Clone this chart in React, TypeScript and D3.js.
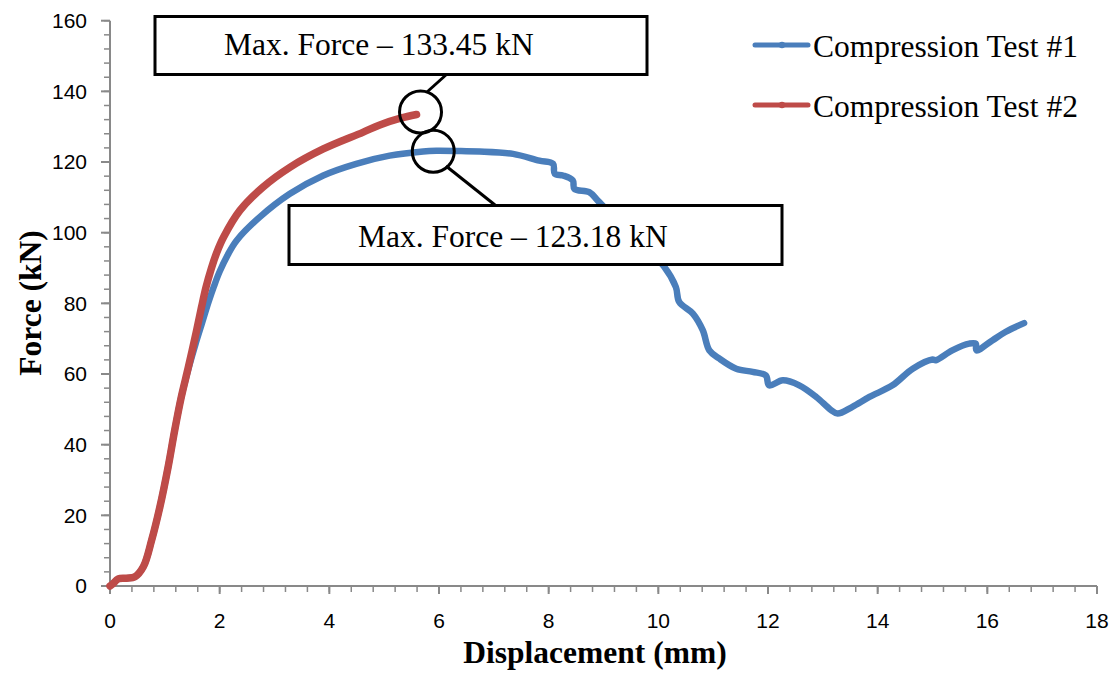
import React from "react";
import * as d3 from "d3";

// Compression Test #1 — displacement (mm)
const test1Disp = [
  0, 0.05, 0.15, 0.3, 0.455, 0.61, 0.76, 0.91, 1.06, 1.18, 1.3, 1.44, 1.56, 1.68, 1.8, 1.9, 2.0, 2.15, 2.31, 2.73, 3.28, 3.89,
  4.49, 5.1, 5.71, 5.95, 6.4, 6.74, 7.35, 7.83, 8.08, 8.11, 8.26, 8.44, 8.47, 8.74, 8.9, 9.4, 9.8, 10.11, 10.32,
  10.38, 10.63, 10.81, 10.93, 11.11, 11.42, 11.72, 11.96, 12.02, 12.27, 12.57, 12.88, 13.15, 13.27, 13.54, 13.85,
  14.27, 14.64, 15.0, 15.06, 15.36, 15.67, 15.79, 15.8, 16.09, 16.33, 16.67,
];
// Compression Test #1 — force (kN)
const test1Force = [
  0, 0.6, 2.0, 2.2, 2.6, 5.5, 13, 22.4, 33.7, 44.1, 53.5, 62, 68.5, 74.5, 80.5, 85, 89, 93.8, 97.8, 104.4, 111, 116.2,
  119.5, 121.8, 123, 123.18, 123.1, 123, 122.3, 120.4, 119.5, 116.7, 116.2, 114.8, 112.4, 111.5, 109, 101, 95, 90.3, 84.6,
  80.4, 77.1, 72.4, 66.7, 64.4, 61.5, 60.6, 59.6, 56.8, 58.2, 56.8, 53.5, 49.8, 48.8, 50.7, 53.5,
  56.8, 61.5, 64.1, 63.9, 66.7, 68.6, 68.6, 66.7, 69.5, 71.9, 74.4,
];

// Compression Test #2 — displacement (mm)
const test2Disp = [
  0, 0.05, 0.15, 0.3, 0.455, 0.61, 0.76, 0.91, 1.06, 1.18, 1.3, 1.43, 1.58, 1.67, 1.75, 1.85, 1.95, 2.07, 2.37, 2.79, 3.28, 3.89,
  4.61, 4.92, 5.3, 5.59,
];
// Compression Test #2 — force (kN)
const test2Force = [
  0, 0.6, 2.0, 2.2, 2.6, 5.5, 13, 22.4, 33.7, 44.1, 53.5, 62, 72.4, 79, 84.5, 90, 94.5, 98.7, 106.3, 112.9, 118.5, 123.7,
  128.4, 130.5, 132.4, 133.45,
];

const seriesNames = ["Compression Test #1", "Compression Test #2"];
const seriesColors = ["#4A7EBB", "#BE4B48"];

const maxForce1 = 123.18;
const maxForce2 = 133.45;
const maxDisp1 = 5.95;
const maxDisp2 = 5.59;

const xTicks = [0, 2, 4, 6, 8, 10, 12, 14, 16, 18];
const yTicks = [0, 20, 40, 60, 80, 100, 120, 140, 160];

const W = 1117;
const H = 673;

const x = d3.scaleLinear().domain([0, 18]).range([110, 1097]);
const y = d3.scaleLinear().domain([0, 160]).range([586, 20.7]);

const lineGen = d3
  .line<[number, number]>()
  .x((d) => x(d[0]))
  .y((d) => y(d[1]))
  .curve(d3.curveCatmullRom.alpha(0.5));

const s1: [number, number][] = test1Disp.map((d, i) => [d, test1Force[i]]);
const s2: [number, number][] = test2Disp.map((d, i) => [d, test2Force[i]]);

const axisColor = "#898989";
const serif = "'Liberation Serif', 'Times New Roman', serif";
const sans = "'Liberation Sans', Arial, sans-serif";

const xMinor = d3.range(0, 18.0001, 0.4);
const yMinor = d3.range(0, 160.0001, 4);

export default function App() {
  const c1 = { cx: x(maxDisp1) - 3, cy: y(maxForce1) + 0.5 };
  const c2 = { cx: x(maxDisp2) + 4, cy: y(maxForce2) - 2.5 };
  return (
    <svg
      width={W}
      height={H}
      style={{ position: "absolute", left: 0, top: 0, background: "#fff" }}
    >
      <rect x={0} y={0} width={W} height={H} fill="#fff" />

      {/* axes */}
      <g stroke={axisColor} strokeWidth={2}>
        <line x1={x(0)} x2={x(0)} y1={y(160)} y2={y(0)} />
        <line x1={x(0)} x2={x(18)} y1={y(0)} y2={y(0)} />
        {yMinor.map((v) => (
          <line key={"ym" + v} x1={x(0) - 6} x2={x(0)} y1={y(v)} y2={y(v)} strokeWidth={1.5} />
        ))}
        {yTicks.map((v) => (
          <line key={"yt" + v} x1={x(0) - 9} x2={x(0)} y1={y(v)} y2={y(v)} />
        ))}
        {xMinor.map((v) => (
          <line key={"xm" + v} x1={x(v)} x2={x(v)} y1={y(0)} y2={y(0) + 6} strokeWidth={1.5} />
        ))}
        {xTicks.map((v) => (
          <line key={"xt" + v} x1={x(v)} x2={x(v)} y1={y(0)} y2={y(0) + 8} />
        ))}
      </g>

      {/* tick labels */}
      <g fontFamily={sans} fontSize={21} fill="#000">
        {yTicks.map((v) => (
          <text key={"yl" + v} x={87} y={y(v)} dy="0.35em" textAnchor="end">
            {v}
          </text>
        ))}
        {xTicks.map((v) => (
          <text key={"xl" + v} x={x(v)} y={628} textAnchor="middle">
            {v}
          </text>
        ))}
      </g>

      {/* axis titles */}
      <text
        x={595}
        y={663}
        textAnchor="middle"
        fontFamily={serif}
        fontWeight="bold"
        fontSize={31.5}
      >
        Displacement (mm)
      </text>
      <text
        transform="translate(41,303) rotate(-90)"
        textAnchor="middle"
        fontFamily={serif}
        fontWeight="bold"
        fontSize={31.5}
      >
        Force (kN)
      </text>

      {/* series */}
      <path d={lineGen(s1) || ""} fill="none" stroke={seriesColors[0]} strokeWidth={6.5} strokeLinejoin="round" strokeLinecap="round" />
      <path d={lineGen(s2) || ""} fill="none" stroke={seriesColors[1]} strokeWidth={7.5} strokeLinejoin="round" strokeLinecap="round" />

      {/* annotation: test #2 maximum */}
      <circle cx={c2.cx} cy={c2.cy} r={21} fill="none" stroke="#000" strokeWidth={3} />
      <line x1={427} y1={92} x2={447} y2={74} stroke="#000" strokeWidth={3} />
      <rect x={155} y={16.5} width={492} height={58} fill="#fff" stroke="#000" strokeWidth={3} />
      <text x={224} y={55} fontFamily={serif} fontSize={31.5}>
        {`Max. Force – ${maxForce2.toFixed(2)} kN`}
      </text>

      {/* annotation: test #1 maximum */}
      <circle cx={c1.cx} cy={c1.cy} r={21} fill="none" stroke="#000" strokeWidth={3} />
      <line x1={446} y1={166} x2={495} y2={205} stroke="#000" strokeWidth={3} />
      <rect x={289} y={205.5} width={493} height={59} fill="#fff" stroke="#000" strokeWidth={3} />
      <text x={358} y={247} fontFamily={serif} fontSize={31.5}>
        {`Max. Force – ${maxForce1.toFixed(2)} kN`}
      </text>

      {/* legend */}
      {seriesNames.map((name, i) => {
        const ly = 45 + i * 60;
        return (
          <g key={name}>
            <line x1={755} x2={808} y1={ly} y2={ly} stroke={seriesColors[i]} strokeWidth={5} strokeLinecap="round" />
            <circle cx={782} cy={ly} r={3.2} fill={seriesColors[i]} />
            <text x={813} y={ly + 12} fontFamily={serif} fontSize={31.5}>
              {name}
            </text>
          </g>
        );
      })}
    </svg>
  );
}
